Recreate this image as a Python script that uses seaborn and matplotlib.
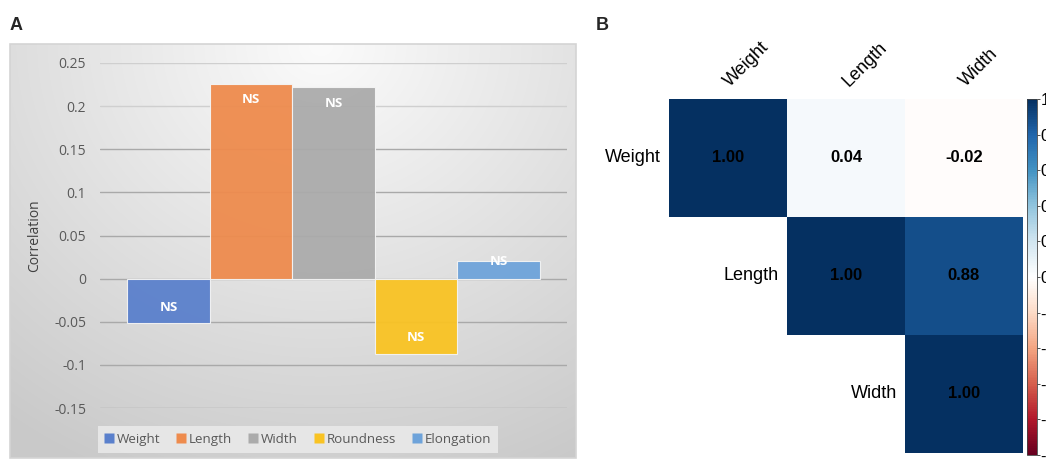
import numpy as np
import pandas as pd
import matplotlib
matplotlib.use("Agg")
import matplotlib.pyplot as plt
from matplotlib.patches import Rectangle
from matplotlib.lines import Line2D
from matplotlib.colors import LinearSegmentedColormap
import seaborn as sns

# ---- Panel A: correlation of each trait with the response ----
traits = ["Weight", "Length", "Width", "Roundness", "Elongation"]
corr_values = [-0.052, 0.226, 0.222, -0.087, 0.020]
sig_labels = ["NS", "NS", "NS", "NS", "NS"]
bar_colors = ["#5A80CC", "#EE8B4D", "#ABABAB", "#F9C323", "#6EA3DA"]
y_ticks = [-0.15, -0.1, -0.05, 0, 0.05, 0.1, 0.15, 0.2, 0.25]
y_tick_labels = ["-0.15", "-0.1", "-0.05", "0", "0.05", "0.1", "0.15", "0.2", "0.25"]

# ---- Panel B: pairwise correlation matrix ----
matrix_vars = ["Weight", "Length", "Width"]
corr_matrix = [[1.00, 0.04, -0.02],
               [0.04, 1.00, 0.88],
               [-0.02, 0.88, 1.00]]
cbar_ticks = [-1, -0.8, -0.6, -0.4, -0.2, 0, 0.2, 0.4, 0.6, 0.8, 1]
cbar_tick_labels = ["-1", "-0.8", "-0.6", "-0.4", "-0.2", "0", "0.2", "0.4", "0.6", "0.8", "1"]
# diverging red-white-blue palette (corrplot style)
rdbu_colors = ["#67001F", "#B2182B", "#D6604D", "#F4A582", "#FDDBC7", "#FFFFFF",
               "#D1E5F0", "#92C5DE", "#4393C3", "#2166AC", "#053061"]

sns.set_theme(style="white")
excel_font = ["Open Sans", "DejaVu Sans"]
arial_font = ["Liberation Sans", "DejaVu Sans"]
plt.rcParams["font.family"] = arial_font

W, H = 1046, 459
fig = plt.figure(figsize=(W / 100, H / 100), dpi=100)
fig.patch.set_facecolor("white")


def fx(px):
    return px / W


def fy(py):
    return 1 - py / H


# gradient chart-area background for panel A
bg_ax = fig.add_axes([fx(10), fy(458), fx(576) - fx(10), fy(44) - fy(458)])
gx, gy = np.meshgrid(np.linspace(0, 1, 300), np.linspace(0, 1, 220))
dist = np.sqrt(((gx - 0.55) / 0.85) ** 2 + ((gy - 0.0) / 1.05) ** 2)
shade = np.clip(0.985 - 0.18 * np.clip(dist, 0, 1.2), 0.79, 1.0)
bg_ax.imshow(np.dstack([shade] * 3), aspect="auto", extent=(0, 1, 1, 0),
             interpolation="bilinear")
bg_ax.set_xlim(0, 1)
bg_ax.set_ylim(1, 0)
bg_ax.axis("off")
bg_ax.add_patch(Rectangle((0, 0), 1, 1, transform=bg_ax.transAxes, fill=False,
                          edgecolor="#d4d4d4", linewidth=1.2, clip_on=False))

# bar chart
ax = fig.add_axes([fx(100), fy(408), fx(567) - fx(100), fy(63) - fy(408)])
ax.set_facecolor((1, 1, 1, 0))
df = pd.DataFrame({"trait": traits, "corr": corr_values})
sns.barplot(data=df, x="trait", y="corr", hue="trait", palette=bar_colors,
            width=1.0, saturation=1, legend=False, ax=ax,
            edgecolor="#f4f4f4", linewidth=0.8, zorder=3)
for p in ax.patches:
    p.set_alpha(0.95)
ax.set_xlim(-0.83, 4.83)
ax.set_ylim(-0.15, 0.25)
ax.set_yticks(y_ticks)
ax.set_yticklabels(y_tick_labels, fontsize=10, color="#595959", family=excel_font)
ax.tick_params(axis="y", length=0, pad=10)
ax.set_xticks([])
ax.set_xlabel("")
ax.set_ylabel("Correlation", fontsize=10, color="#404040", family=excel_font)
ax.yaxis.set_label_coords(-0.124, 0.5)
for s in ax.spines.values():
    s.set_visible(False)
for t in y_ticks:
    ax.axhline(t, color="#a9a9a9" if t < 0.2 else "#cfcfcf", linewidth=1.0, zorder=1)

for i, (v, lab) in enumerate(zip(corr_values, sig_labels)):
    off = 0.0185 if abs(v) >= 0.04 else 0.0
    yc = v - np.sign(v) * off
    ax.text(i, yc, lab, ha="center", va="center", color="white",
            fontsize=9.5, fontweight="bold", family=excel_font, zorder=5)

handles = [Line2D([0], [0], marker="s", linestyle="", markersize=7,
                  markerfacecolor=c, markeredgecolor="none") for c in bar_colors]
leg = fig.legend(handles, traits, loc="center", bbox_to_anchor=(fx(298), fy(439.5)),
                 ncol=5, frameon=True, handlelength=0.6, handletextpad=0.3,
                 columnspacing=1.25, borderpad=0.5, prop={"family": excel_font, "size": 9.6})
leg.get_frame().set_facecolor("#e9e9e9")
leg.get_frame().set_edgecolor("none")
leg.get_frame().set_alpha(0.9)
leg.get_frame().set_boxstyle("square", pad=0.0)
for t in leg.get_texts():
    t.set_color("#595959")

fig.text(fx(10), fy(26), "A", fontsize=13, fontweight="bold", ha="left", va="center",
         family=arial_font)
fig.text(fx(596), fy(26), "B", fontsize=13, fontweight="bold", ha="left", va="center",
         family=arial_font)

# ---- correlation heatmap (upper triangle) ----
hm_ax = fig.add_axes([fx(669), fy(453), fx(1023) - fx(669), fy(99) - fy(453)])
cb_ax = fig.add_axes([fx(1027), fy(455), fx(1037) - fx(1027), fy(99) - fy(455)])
cmap = LinearSegmentedColormap.from_list("corr_rdbu", rdbu_colors, N=200)
cm = pd.DataFrame(corr_matrix, index=matrix_vars, columns=matrix_vars)
mask = np.tril(np.ones_like(cm.values, dtype=bool), k=-1)
sns.heatmap(cm, mask=mask, cmap=cmap, vmin=-1, vmax=1, annot=True, fmt=".2f",
            annot_kws={"color": "black", "fontsize": 12, "fontweight": "bold"},
            cbar=True, cbar_ax=cb_ax, square=False, linewidths=0,
            xticklabels=False, yticklabels=False, ax=hm_ax)
hm_ax.set_xlabel("")
hm_ax.set_ylabel("")
for j, name in enumerate(matrix_vars):
    hm_ax.text(j + 0.52, -0.1, name, rotation=45, rotation_mode="anchor",
               ha="left", va="baseline", fontsize=13, color="black")
for i, name in enumerate(matrix_vars):
    hm_ax.text(i - 0.07, i + 0.5, name, ha="right", va="center", fontsize=13,
               color="black")

cb_ax.set_yticks(cbar_ticks)
cb_ax.set_yticklabels(cbar_tick_labels, fontsize=12, color="black")
cb_ax.tick_params(axis="y", length=2, width=0.6, pad=0.5, right=True, color="#333333")
cb = hm_ax.collections[0].colorbar
cb.outline.set_edgecolor("#444444")
cb.outline.set_linewidth(0.6)

fig.savefig("out.png", dpi=100, facecolor="white")
